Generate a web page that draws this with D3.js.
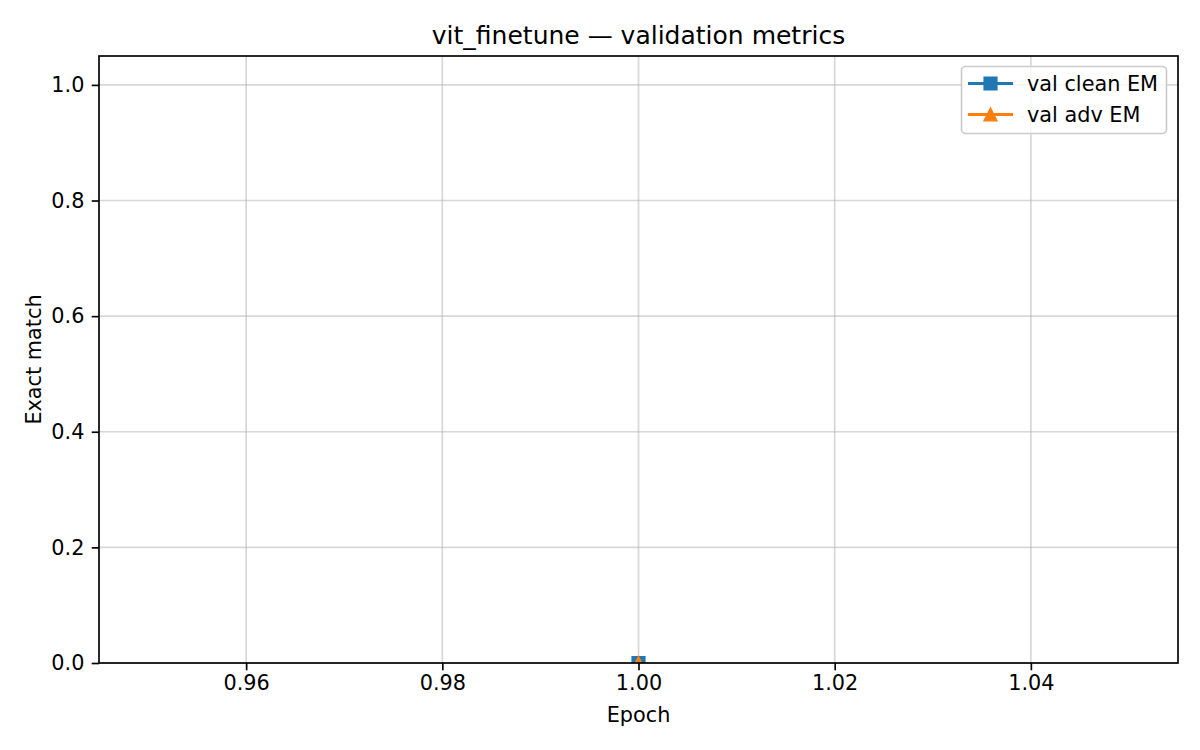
<!DOCTYPE html>
<html><head><meta charset="utf-8">
<script src="https://cdn.jsdelivr.net/npm/d3@7"></script>
<style>body{margin:0;background:#fff;} svg{display:block;font-family:"DejaVu Sans",sans-serif;}</style>
</head><body>
<svg id="c" width="1200" height="750"></svg>
<script>
const epochs = [1];
const valClean = [0.0];
const valAdv = [0.0];
const xTicks = [0.96, 0.98, 1.00, 1.02, 1.04];
const yTicks = [0.0, 0.2, 0.4, 0.6, 0.8, 1.0];
const seriesNames = ["val clean EM", "val adv EM"];
const colors = ["#1f77b4", "#ff7f0e"];

const svg = d3.select("#c");
const L = 99, R = 1178, T = 56, B = 663;
const FS = 20.8;
const x = d3.scaleLinear().domain([0.945, 1.055]).range([L, R]);
const y = d3.scaleLinear().domain([0, 1.05]).range([B, T]);

svg.append("defs").append("clipPath").attr("id","clip")
  .append("rect").attr("x",L).attr("y",T).attr("width",R-L).attr("height",B-T);

// grid
const g = svg.append("g");
g.selectAll(".gx").data(xTicks).join("line")
  .attr("x1",d=>x(d)).attr("x2",d=>x(d)).attr("y1",T).attr("y2",B)
  .attr("stroke","#b0b0b0").attr("stroke-opacity",0.5).attr("stroke-width",1.67);
g.selectAll(".gy").data(yTicks).join("line")
  .attr("y1",d=>y(d)).attr("y2",d=>y(d)).attr("x1",L).attr("x2",R)
  .attr("stroke","#b0b0b0").attr("stroke-opacity",0.5).attr("stroke-width",1.67);

// markers
const sqPath = s => `M${-s},${-s}H${s}V${s}H${-s}Z`;
const triPath = s => `M0,${-s}L${s},${s}L${-s},${s}Z`;

// data
const plot = svg.append("g").attr("clip-path","url(#clip)");
const line = d3.line().x((d,i)=>x(epochs[i])).y(d=>y(d));
[valClean, valAdv].forEach((s,k)=>{
  plot.append("path").datum(s).attr("d",line).attr("fill","none")
    .attr("stroke",colors[k]).attr("stroke-width",3.1);
});
plot.selectAll(".sq").data(valClean).join("path")
  .attr("d",sqPath(6.25)).attr("transform",(d,i)=>`translate(${x(epochs[i])},${y(d)})`)
  .attr("fill",colors[0]).attr("stroke",colors[0]).attr("stroke-width",1.67);
plot.selectAll(".tr").data(valAdv).join("path")
  .attr("d",triPath(6.25)).attr("transform",(d,i)=>`translate(${x(epochs[i])},${y(d)})`)
  .attr("fill",colors[1]).attr("stroke",colors[1]).attr("stroke-width",1.67).attr("stroke-linejoin","miter");

// axes
const xa = svg.append("g").attr("transform",`translate(0,${B})`)
  .call(d3.axisBottom(x).tickValues(xTicks).tickFormat(d3.format(".2f")).tickSize(7.3).tickPadding(5));
const ya = svg.append("g").attr("transform",`translate(${L},0)`)
  .call(d3.axisLeft(y).tickValues(yTicks).tickFormat(d3.format(".1f")).tickSize(7.3).tickPadding(7.3));
[xa,ya].forEach(a=>{
  a.select(".domain").remove();
  a.selectAll("line").attr("stroke","#000").attr("stroke-width",1.67);
  a.selectAll("text").attr("font-size",FS).attr("fill","#000").attr("font-family","DejaVu Sans");
});
svg.append("rect").attr("x",L).attr("y",T).attr("width",R-L).attr("height",B-T)
  .attr("fill","none").attr("stroke","#000").attr("stroke-width",1.67);

// labels
svg.append("text").attr("x",(L+R)/2).attr("y",43.5).attr("text-anchor","middle")
  .attr("font-size",25).text("vit_finetune — validation metrics");
svg.append("text").attr("x",(L+R)/2).attr("y",722).attr("text-anchor","middle")
  .attr("font-size",FS).text("Epoch");
svg.append("text").attr("transform",`translate(40.5,${(T+B)/2}) rotate(-90)`).attr("text-anchor","middle")
  .attr("font-size",FS).text("Exact match");

// legend
const lg = svg.append("g");
lg.append("rect").attr("x",961.5).attr("y",66.5).attr("width",205).attr("height",67).attr("rx",4)
  .attr("fill","#fff").attr("fill-opacity",0.8).attr("stroke","#cccccc").attr("stroke-width",1.67);
seriesNames.forEach((n,k)=>{
  const yy = 83.5 + k*31;
  lg.append("line").attr("x1",968).attr("x2",1013).attr("y1",yy).attr("y2",yy)
    .attr("stroke",colors[k]).attr("stroke-width",3.1);
  lg.append("path").attr("d",k===0?sqPath(6.25):triPath(6.25))
    .attr("transform",`translate(990.5,${yy})`)
    .attr("fill",colors[k]).attr("stroke",colors[k]).attr("stroke-width",1.67);
  lg.append("text").attr("x",1027).attr("y",yy+7.3).attr("font-size",FS).text(n);
});
</script>
</body></html>
